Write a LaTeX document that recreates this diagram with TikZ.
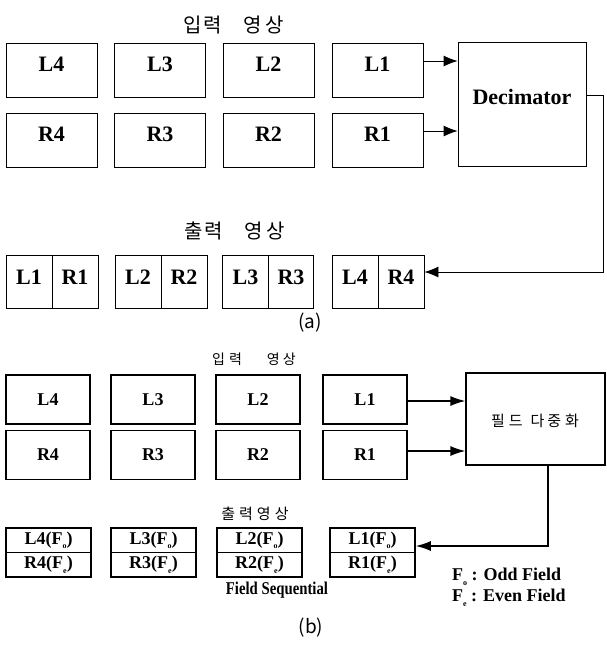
\documentclass[tikz,border=0pt]{standalone}
\usepackage{fontspec}
\setmainfont{Liberation Serif}
\newfontfamily\kr{Noto Sans CJK KR}
\usetikzlibrary{arrows.meta}
\newcommand{\sub}[1]{\raisebox{-4.5pt}{\fontsize{8}{8}\selectfont #1}}
\begin{document}
\begin{tikzpicture}[x=1pt,y=-1pt,
  abox/.style={draw, line width=0.8pt, minimum width=91pt, minimum height=54pt, inner sep=0pt},
  ahalf/.style={draw, line width=0.8pt, minimum width=46pt, minimum height=53pt, inner sep=0pt},
  alab/.style={font=\rmfamily\fontsize{22}{22}\selectfont\bfseries, inner sep=0pt},
  bbox/.style={draw, line width=1.3pt, minimum width=84pt, minimum height=49pt, inner sep=0pt, font=\rmfamily\fontsize{18}{18}\selectfont\bfseries},
  bhalf/.style={draw, line width=1.6pt, minimum width=85pt, minimum height=24.5pt, inner sep=0pt, font=\rmfamily\fontsize{18}{18}\selectfont\bfseries},
  ktitle/.style={font=\kr\fontsize{20}{20}\selectfont, inner sep=0pt},
  ksmall/.style={font=\kr\fontsize{15}{15}\selectfont, inner sep=0pt},
  capt/.style={font=\kr\fontsize{19}{19}\selectfont, inner sep=0pt},
  arra/.style={-{Latex[length=14pt,width=11pt]}, line width=0.8pt},
  arrb/.style={-{Latex[length=15pt,width=10pt]}, line width=1.3pt},
  legend/.style={font=\rmfamily\fontsize{18}{18}\selectfont\bfseries, inner sep=0pt, anchor=west}
]
\fill[white] (0,0) rectangle (606,646);
\useasboundingbox (0,0) rectangle (606,646);

% ---------------- (a) ----------------
\node[ktitle] (ta) at (234,25) {입\hspace{1pt}력\hspace{22pt}영\hspace{4pt}상};

\node[abox] (aL4) at (51.5,70) {};
\node[abox] (aL3) at (160,70) {};
\node[abox] (aL2) at (268.5,70) {};
\node[abox] (aL1) at (377.5,70) {};
\node[abox] (aR4) at (51.5,140.5) {};
\node[abox] (aR3) at (160,140.5) {};
\node[abox] (aR2) at (268.5,140.5) {};
\node[abox] (aR1) at (377.5,140.5) {};
\node[alab] (aL4t) at ([yshift=6pt]aL4.center) {L4};
\node[alab] (aL3t) at ([yshift=6pt]aL3.center) {L3};
\node[alab] (aL2t) at ([yshift=6pt]aL2.center) {L2};
\node[alab] (aL1t) at ([yshift=6pt]aL1.center) {L1};
\node[alab] (aR4t) at ([yshift=6pt]aR4.center) {R4};
\node[alab] (aR3t) at ([yshift=6pt]aR3.center) {R3};
\node[alab] (aR2t) at ([yshift=6pt]aR2.center) {R2};
\node[alab] (aR1t) at ([yshift=6pt]aR1.center) {R1};

\node[draw, line width=0.8pt, minimum width=128pt, minimum height=124pt, inner sep=0pt] (dec) at (522,104) {};
\node[alab] (dect) at ([yshift=7pt]dec.center) {Decimator};

\draw[arra] ([yshift=9pt]aL1.east) -- ([yshift=9pt]aL1.east -| dec.west);
\draw[arra] ([yshift=9.5pt]aR1.east) -- ([yshift=9.5pt]aR1.east -| dec.west);

\node[ktitle] (tao) at (235,231) {출\hspace{1pt}력\hspace{22pt}영\hspace{4pt}상};

\node[ahalf] (o1l) at (29,281.5) {};
\node[ahalf] (o1r) at (75,281.5) {};
\node[ahalf] (o2l) at (138,281.5) {};
\node[ahalf] (o2r) at (184,281.5) {};
\node[ahalf, minimum width=45.5pt] (o3l) at (245.5,281.5) {};
\node[ahalf, minimum width=45.5pt] (o3r) at (291,281.5) {};
\node[ahalf] (o4l) at (355,281.5) {};
\node[ahalf] (o4r) at (401,281.5) {};
\node[alab] at ([yshift=4pt]o1l.center) {L1};
\node[alab] at ([yshift=4pt]o1r.center) {R1};
\node[alab] at ([yshift=4pt]o2l.center) {L2};
\node[alab] at ([yshift=4pt]o2r.center) {R2};
\node[alab] at ([yshift=4pt]o3l.center) {L3};
\node[alab] at ([yshift=4pt]o3r.center) {R3};
\node[alab] at ([yshift=4pt]o4l.center) {L4};
\node[alab] at ([yshift=4pt]o4r.center) {R4};

\coordinate (ca) at (603,95);
\coordinate (cb) at (603,272);
\draw[arra] ([yshift=9pt]dec.east) -- (ca) -- (cb) -- (cb -| o4r.east);

\node[capt] (capa) at (310,323) {(a)};

% ---------------- (b) ----------------
\node[ksmall, font=\kr\fontsize{14}{14}\selectfont] (tb) at (254,359) {입\hspace{4pt}력\hspace{25pt}영\hspace{3pt}상};

\node[bbox] (bL4) at (48,399.5) {L4};
\node[bbox] (bL3) at (153,399.5) {L3};
\node[bbox] (bL2) at (258,399.5) {L2};
\node[bbox] (bL1) at (365,399.5) {L1};
\node[bbox] (bR4) at (48,455) {R4};
\node[bbox] (bR3) at (153,455) {R3};
\node[bbox] (bR2) at (258,455) {R2};
\node[bbox] (bR1) at (365,455) {R1};

\node[draw, line width=1.3pt, minimum width=139pt, minimum height=92pt, inner sep=0pt] (mux) at (535.5,419) {};
\node[ksmall] (muxt) at (535,421) {필\hspace{4pt}드\hspace{8pt}다\hspace{3pt}중\hspace{4pt}화};

\draw[arrb] ([yshift=-1.5pt]bL1.east) -- ([yshift=-1.5pt]bL1.east -| mux.west);
\draw[arrb] ([yshift=4pt]bR1.east) -- ([yshift=4pt]bR1.east -| mux.west);

\node[ksmall] (tbo) at (255,514) {출\hspace{4pt}력\hspace{4pt}영\hspace{4pt}상};

\node[bhalf] (p1t) at (48.5,540.25) {L4(F\sub{o})};
\node[bhalf] (p1b) at (48.5,564.75) {R4(F\sub{e})};
\node[bhalf] (p2t) at (153.5,540.25) {L3(F\sub{o})};
\node[bhalf] (p2b) at (153.5,564.75) {R3(F\sub{e})};
\node[bhalf] (p3t) at (259.5,540.25) {L2(F\sub{o})};
\node[bhalf] (p3b) at (259.5,564.75) {R2(F\sub{e})};
\node[bhalf] (p4t) at (372.5,540.25) {L1(F\sub{o})};
\node[bhalf] (p4b) at (372.5,564.75) {R1(F\sub{e})};

\coordinate (cc) at (548,546);
\draw[arrb] (mux.south -| cc) -- (cc) -- (cc -| p4t.east);

\node[font=\rmfamily\fontsize{18}{18}\selectfont\bfseries, inner sep=0pt] (fs) at (277,590) {\scalebox{0.82}[1]{Field Sequential}};

\node[legend] (lo) at (452,577) {F\sub{o} : Odd Field};
\node[legend] (le) at (452,598) {F\sub{e} : Even Field};

\node[capt] (capb) at (311,628) {(b)};
\end{tikzpicture}
\end{document}
